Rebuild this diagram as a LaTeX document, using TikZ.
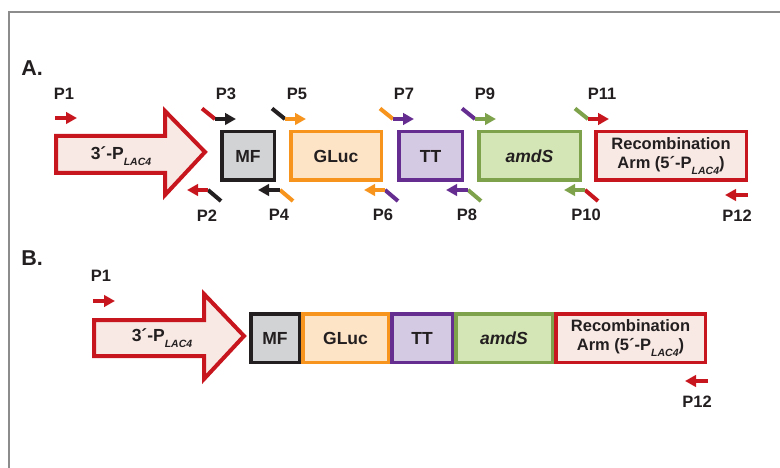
\documentclass[tikz,border=0pt]{standalone}
\usepackage{fontspec}
\setmainfont{Liberation Sans}
\usetikzlibrary{arrows.meta}
\definecolor{cred}{HTML}{C8161E}
\definecolor{cpink}{HTML}{F8E9E4}
\definecolor{cblk}{HTML}{231F20}
\definecolor{cgray}{HTML}{D1D3D4}
\definecolor{corg}{HTML}{F7941D}
\definecolor{corgf}{HTML}{FEE4C7}
\definecolor{cpur}{HTML}{662D91}
\definecolor{cpurf}{HTML}{D5CAE3}
\definecolor{cgrn}{HTML}{7DA24B}
\definecolor{cgrnf}{HTML}{D4E6B5}
\definecolor{cframe}{HTML}{8C8C8C}
\newcommand{\lacsub}{\raisebox{-6pt}{\fontsize{10.5}{10}\selectfont\itshape LAC4}}
% forward primer: name, tail x, tail colour, arrow colour
\newcommand{\fwdprimer}[4]{%
  \coordinate (#1t) at (#2,108.5);
  \coordinate (#1j) at (#2+13,119);
  \coordinate (#1h) at (#2+34,119);
  \draw[ptail,#3] (#1t) -- (#1j);
  \draw[primer,#4] (#1j) -- (#1h);}
% reverse primer: name, head x, joint x, arrow colour, tail colour
\newcommand{\revprimer}[5]{%
  \coordinate (#1h) at (#2,190);
  \coordinate (#1j) at (#3,190);
  \coordinate (#1t) at (#3+13,201);
  \draw[ptail,#5] (#1j) -- (#1t);
  \draw[primer,#4] (#1j) -- (#1h);}
\begin{document}
\begin{tikzpicture}[x=1pt,y=-1pt, text=cblk,
  blk/.style={draw, line width=3.5pt, inner sep=0pt, minimum height=48.5pt,
    font=\fontsize{17.5}{19}\selectfont\bfseries},
  plabel/.style={font=\fontsize{16.5}{17}\selectfont\bfseries, inner sep=0pt},
  panel/.style={font=\fontsize{21.5}{23}\selectfont\bfseries, inner sep=0pt},
  promlabel/.style={font=\fontsize{17.5}{19}\selectfont\bfseries, inner sep=0pt},
  rclabel/.style={font=\fontsize{16.5}{19.5}\selectfont\bfseries},
  primer/.style={line width=4.5pt, -{Triangle[length=11pt,width=11.5pt]}},
  ptail/.style={line width=4pt},
  bigarrow/.style={draw=cred, fill=cpink, line width=4pt},
]
\useasboundingbox (0,0) rectangle (780,468);
% frame
\coordinate (fr1) at (780,12);
\coordinate (fr2) at (9,12);
\coordinate (fr3) at (9,468);
\draw[cframe, line width=1.5pt] (fr1) -- (fr2) -- (fr3);

% ---------------- Panel A ----------------
\node[panel] (labA) at (32,68) {A.};
\draw[bigarrow] (56,136) -- (165,136) -- (165,111) -- (205,152) -- (165,195) -- (165,173) -- (56,173) -- cycle;
\node[promlabel] (promA) at (121,156) {3´-P\lacsub};

\node[blk, draw=cblk, fill=cgray, minimum width=52.5pt] (mfA) at (248,156) {MF};
\node[blk, draw=corg, fill=corgf, minimum width=90.5pt] (glA) at (336,156) {GLuc};
\node[blk, draw=cpur, fill=cpurf, minimum width=63.5pt] (ttA) at (430.5,156) {TT};
\node[blk, draw=cgrn, fill=cgrnf, minimum width=101.5pt] (amA) at (529.5,156) {\itshape amdS};
\node[blk, draw=cred, fill=cpink, minimum width=150.5pt, align=center, rclabel] (rcA) at (671,156) {Recombination\\Arm (5´-P\lacsub)};

% forward primers
\coordinate (p1s) at (55,118);
\coordinate (p1e) at (77,118);
\draw[primer,cred] (p1s) -- (p1e);
\fwdprimer{p3}{202}{cred}{cblk}
\fwdprimer{p5}{272}{cblk}{corg}
\fwdprimer{p7}{380}{corg}{cpur}
\fwdprimer{p9}{462}{cpur}{cgrn}
\fwdprimer{p11}{575}{cgrn}{cred}
% reverse primers
\revprimer{p2}{187}{208}{cred}{cblk}
\revprimer{p4}{258}{280}{cblk}{corg}
\revprimer{p6}{364}{385}{corg}{cpur}
\revprimer{p8}{446}{468}{cpur}{cgrn}
\revprimer{p10}{564}{585}{cgrn}{cred}
\coordinate (p12s) at (748,195);
\coordinate (p12e) at (725,195);
\draw[primer,cred] (p12s) -- (p12e);

% primer labels
\node[plabel] (lP1) at (64,94) {P1};
\node[plabel] (lP3) at (226,94) {P3};
\node[plabel] (lP5) at (297,94) {P5};
\node[plabel] (lP7) at (404,94) {P7};
\node[plabel] (lP9) at (485,94) {P9};
\node[plabel] (lP11) at (602,94) {P11};
\node[plabel] (lP2) at (207,216) {P2};
\node[plabel] (lP4) at (279,215) {P4};
\node[plabel] (lP6) at (383,215) {P6};
\node[plabel] (lP8) at (467,215) {P8};
\node[plabel] (lP10) at (586,215) {P10};
\node[plabel] (lP12) at (737,216) {P12};

% ---------------- Panel B ----------------
\node[panel] (labB) at (32,258) {B.};
\draw[bigarrow] (94,320) -- (204,320) -- (204,294) -- (244,336) -- (204,379) -- (204,356) -- (94,356) -- cycle;
\node[promlabel] (promB) at (162,338) {3´-P\lacsub};

\node[blk, draw=cblk, fill=cgray, minimum width=48.5pt] (mfB) at (275,338) {MF};
\node[blk, draw=corg, fill=corgf, minimum width=85.5pt] (glB) at (345.5,338) {GLuc};
\node[blk, draw=cpur, fill=cpurf, minimum width=60.5pt] (ttB) at (422,338) {TT};
\node[blk, draw=cgrn, fill=cgrnf, minimum width=96.5pt] (amB) at (504,338) {\itshape amdS};
\node[blk, draw=cred, fill=cpink, minimum width=149.5pt, align=center, rclabel] (rcB) at (630.5,338) {Recombination\\Arm (5´-P\lacsub)};

\coordinate (b1s) at (93,301);
\coordinate (b1e) at (115,301);
\draw[primer,cred] (b1s) -- (b1e);
\coordinate (b12s) at (708,381);
\coordinate (b12e) at (685,381);
\draw[primer,cred] (b12s) -- (b12e);
\node[plabel] (lBP1) at (101,276) {P1};
\node[plabel] (lBP12) at (697,402) {P12};
\end{tikzpicture}
\end{document}
